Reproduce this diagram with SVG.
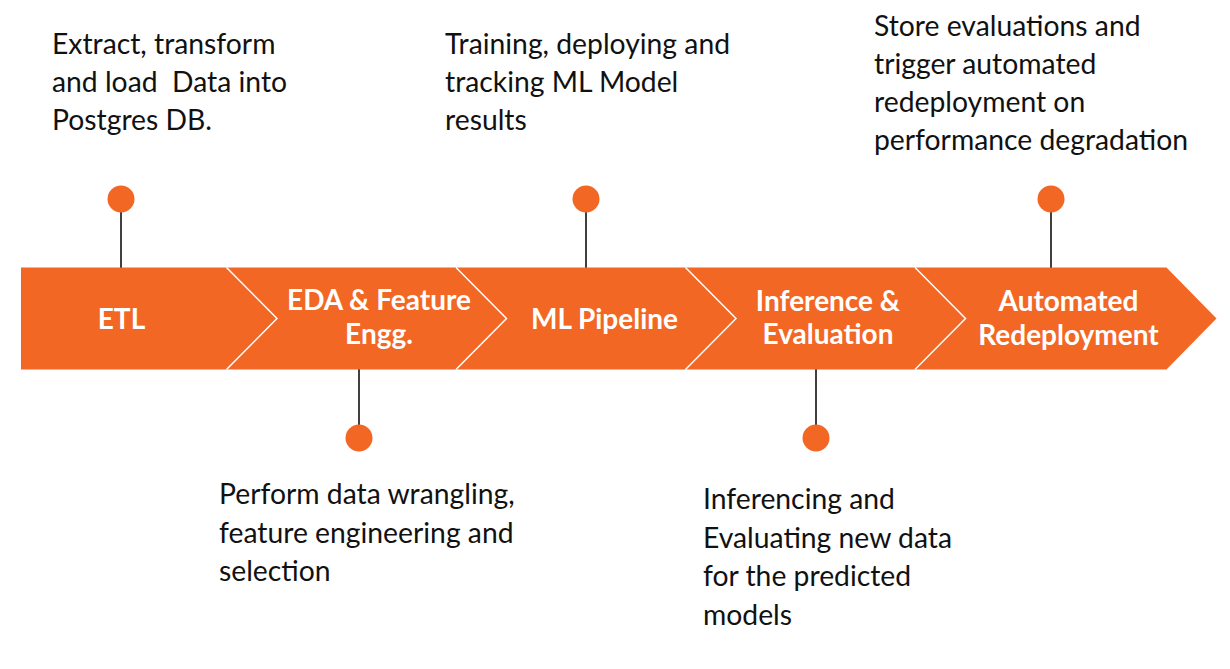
<svg xmlns="http://www.w3.org/2000/svg" width="1230" height="669" viewBox="0 0 1230 669">
<style>
.seg{fill:#F36724;}
.sep{fill:none;stroke:#FFFFFF;stroke-width:1.5;}
.lbl{font-family:Lato,"Noto Sans",sans-serif;font-weight:bold;font-size:28px;fill:#FFFFFF;text-anchor:middle;}
.desc{font-family:Lato,"Noto Sans",sans-serif;font-size:28.3px;fill:#111111;}
.pin{fill:#F36724;}
.stem{stroke:#000000;stroke-width:1.5;}
</style>
<rect width="1230" height="669" fill="#FFFFFF"/>
<g id="connectors">
<line class="stem" x1="121" y1="199" x2="121" y2="268"/>
<line class="stem" x1="359" y1="369" x2="359" y2="438"/>
<line class="stem" x1="586" y1="199" x2="586" y2="268"/>
<line class="stem" x1="816" y1="369" x2="816" y2="438"/>
<line class="stem" x1="1051" y1="199" x2="1051" y2="268"/>
</g>
<g id="etl">
<polygon class="seg" points="21,267.5 226.5,267.5 277,318.5 226.5,369.5 21,369.5"/>
<text class="lbl" x="121.5" y="329">ETL</text>
<circle class="pin" cx="121" cy="199" r="13.5"/>
<text class="desc" xml:space="preserve"><tspan x="52" y="54">Extract, transform</tspan><tspan x="52" y="92">and load  Data into</tspan><tspan x="52" y="130">Postgres DB.</tspan></text>
</g>
<g id="eda">
<polygon class="seg" points="226.5,267.5 456,267.5 506.5,318.5 456,369.5 226.5,369.5 277,318.5"/>
<polyline class="sep" points="226.5,267.5 277,318.5 226.5,369.5"/>
<text class="lbl" x="379" y="310">EDA &amp; Feature</text>
<text class="lbl" x="379" y="344">Engg.</text>
<circle class="pin" cx="359" cy="438" r="13.5"/>
<text class="desc"><tspan x="219" y="504">Perform data wrangling,</tspan><tspan x="219" y="543">feature engineering and</tspan><tspan x="219" y="581">selection</tspan></text>
</g>
<g id="ml">
<polygon class="seg" points="456,267.5 685.5,267.5 736,318.5 685.5,369.5 456,369.5 506.5,318.5"/>
<polyline class="sep" points="456,267.5 506.5,318.5 456,369.5"/>
<text class="lbl" x="604.5" y="328.5">ML Pipeline</text>
<circle class="pin" cx="586" cy="199" r="13.5"/>
<text class="desc"><tspan x="445" y="54">Training, deploying and</tspan><tspan x="445" y="92">tracking ML Model</tspan><tspan x="445" y="130">results</tspan></text>
</g>
<g id="inference">
<polygon class="seg" points="685.5,267.5 915,267.5 965.5,318.5 915,369.5 685.5,369.5 736,318.5"/>
<polyline class="sep" points="685.5,267.5 736,318.5 685.5,369.5"/>
<text class="lbl" x="828" y="310.5">Inference &amp;</text>
<text class="lbl" x="828" y="344">Evaluation</text>
<circle class="pin" cx="816" cy="438" r="13.5"/>
<text class="desc"><tspan x="703" y="509">Inferencing and</tspan><tspan x="703" y="548">Evaluating new data</tspan><tspan x="703" y="586">for the predicted</tspan><tspan x="703" y="625">models</tspan></text>
</g>
<g id="redeploy">
<polygon class="seg" points="915,267.5 1166.5,267.5 1216.5,318.5 1166.5,369.5 915,369.5 965.5,318.5"/>
<polyline class="sep" points="915,267.5 965.5,318.5 915,369.5"/>
<text class="lbl" x="1068.5" y="311">Automated</text>
<text class="lbl" x="1068.5" y="345">Redeployment</text>
<circle class="pin" cx="1051" cy="199" r="13.5"/>
<text class="desc"><tspan x="874" y="36">Store evaluations and</tspan><tspan x="874" y="74">trigger automated</tspan><tspan x="874" y="112">redeployment on</tspan><tspan x="874" y="150">performance degradation</tspan></text>
</g>
</svg>
